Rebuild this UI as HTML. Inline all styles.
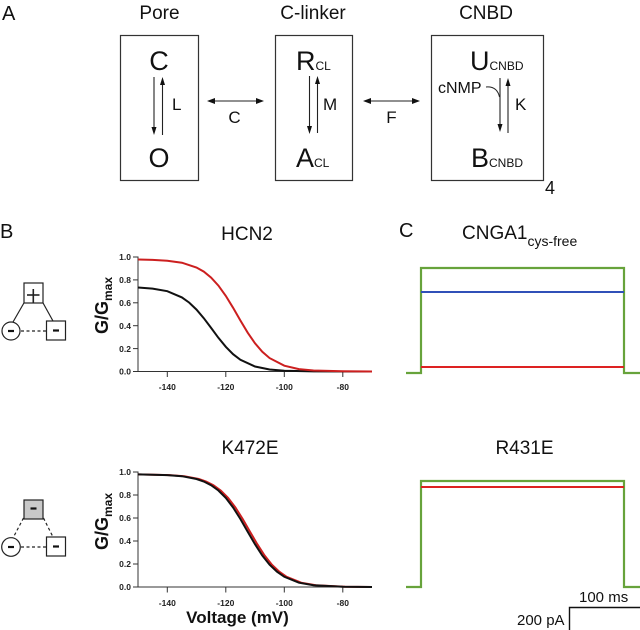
<!DOCTYPE html>
<html><head><meta charset="utf-8"><style>
html,body{margin:0;padding:0;background:#fff;}
svg{display:block;font-family:"Liberation Sans",Arial,sans-serif;}
</style></head><body>
<svg width="640" height="630" viewBox="0 0 640 630" xmlns="http://www.w3.org/2000/svg">
<rect width="640" height="630" fill="#fff"/>
<!-- Panel A -->
<text x="2" y="20" font-size="20" fill="#111">A</text>
<text x="159.5" y="19" font-size="19" text-anchor="middle" fill="#111">Pore</text>
<text x="313" y="19" font-size="19" text-anchor="middle" fill="#111">C-linker</text>
<text x="486" y="19" font-size="19" text-anchor="middle" fill="#111">CNBD</text>

<g fill="none" stroke="#333" stroke-width="1.2">
<rect x="120.5" y="35.5" width="78" height="145"/>
<rect x="275.5" y="35.5" width="77" height="145"/>
<rect x="431.5" y="35.5" width="112" height="145"/>
</g>

<!-- Pore -->
<text x="159" y="70" font-size="27" text-anchor="middle" fill="#111">C</text>
<text x="159" y="167" font-size="27" text-anchor="middle" fill="#111">O</text>
<g stroke="#222" stroke-width="1.1">
<line x1="154" y1="77" x2="154" y2="128"/>
<line x1="162.5" y1="135" x2="162.5" y2="84"/>
<line x1="309.5" y1="76" x2="309.5" y2="127"/>
<line x1="317.5" y1="133" x2="317.5" y2="83"/>
<line x1="500" y1="78" x2="500" y2="125"/>
<line x1="508" y1="133" x2="508" y2="85"/>
<line x1="213" y1="101" x2="258" y2="101"/>
<line x1="369" y1="101" x2="414" y2="101"/>
</g>
<g fill="#111">
<polygon points="151.5,127 156.5,127 154,135"/>
<polygon points="160,85 165,85 162.5,77"/>
<polygon points="307,126 312,126 309.5,134"/>
<polygon points="315,84 320,84 317.5,76"/>
<polygon points="497.5,124 502.5,124 500,132"/>
<polygon points="505.5,86 510.5,86 508,78"/>
<polygon points="207,101 215,98 215,104"/>
<polygon points="264,101 256,98 256,104"/>
<polygon points="363,101 371,98 371,104"/>
<polygon points="420,101 412,98 412,104"/>
</g>
<text x="172" y="110" font-size="17" fill="#111">L</text>
<text x="234.5" y="123" font-size="17" text-anchor="middle" fill="#111">C</text>
<text x="391.5" y="123" font-size="17" text-anchor="middle" fill="#111">F</text>

<!-- C-linker -->
<text x="296" y="70" font-size="27" fill="#111">R<tspan font-size="12">CL</tspan></text>
<text x="296" y="167" font-size="27" fill="#111">A<tspan font-size="12">CL</tspan></text>
<text x="323" y="110" font-size="17" fill="#111">M</text>

<!-- CNBD -->
<text x="470" y="70" font-size="27" fill="#111">U<tspan font-size="12">CNBD</tspan></text>
<text x="471" y="167" font-size="27" fill="#111">B<tspan font-size="12">CNBD</tspan></text>
<text x="438" y="93" font-size="16" fill="#111">cNMP</text>
<path d="M486 87 Q497 86 499.5 97" fill="none" stroke="#222" stroke-width="1"/>
<text x="515" y="110" font-size="17" fill="#111">K</text>
<text x="545" y="194" font-size="18" fill="#111">4</text>

<!-- Panel B -->
<text x="0" y="238" font-size="20" fill="#111">B</text>
<text x="247" y="240" font-size="19" text-anchor="middle" fill="#111">HCN2</text>
<text x="250" y="454" font-size="19" text-anchor="middle" fill="#111">K472E</text>

<!-- diagram top -->
<g stroke="#222" stroke-width="1.2" fill="none">
<line x1="24.5" y1="302" x2="13" y2="322"/>
<line x1="42.5" y1="302" x2="53" y2="321"/>
<line x1="21" y1="331" x2="46" y2="331" stroke-dasharray="3,2.5"/>
<rect x="24" y="283" width="19" height="20" fill="#fff"/>
<circle cx="11" cy="331" r="9" fill="#fff"/>
<rect x="46.5" y="321" width="19" height="19" fill="#fff"/>
<line x1="27" y1="295" x2="39.5" y2="295" stroke-width="1.6"/>
<line x1="33.3" y1="289" x2="33.3" y2="303" stroke-width="1.6"/>
</g>
<g stroke="#111" stroke-width="2.2">
<line x1="8" y1="331" x2="14" y2="331"/>
<line x1="53" y1="330.5" x2="59" y2="330.5"/>
</g>
<!-- diagram bottom -->
<g stroke="#222" stroke-width="1.2" fill="none">
<line x1="23.5" y1="518" x2="13" y2="538" stroke-dasharray="3,2.5"/>
<line x1="43.5" y1="518" x2="53" y2="537" stroke-dasharray="3,2.5"/>
<line x1="21" y1="547" x2="46" y2="547" stroke-dasharray="3,2.5"/>
<rect x="24" y="500" width="19" height="19" fill="#c9c9c9"/>
<circle cx="11" cy="547" r="9.3" fill="#fff"/>
<rect x="46.5" y="537" width="19" height="19" fill="#fff"/>
</g>
<g stroke="#111" stroke-width="2.2">
<line x1="30.5" y1="508.5" x2="36.5" y2="508.5"/>
<line x1="8" y1="547" x2="14" y2="547"/>
<line x1="53" y1="546.5" x2="59" y2="546.5"/>
</g>

<!-- top plot axes -->
<g stroke="#333" stroke-width="1">
<line x1="138" y1="256.5" x2="138" y2="372"/>
<line x1="137.5" y1="371.5" x2="372" y2="371.5"/>
<line x1="133" y1="257" x2="138" y2="257"/>
<line x1="133" y1="279.9" x2="138" y2="279.9"/>
<line x1="133" y1="302.8" x2="138" y2="302.8"/>
<line x1="133" y1="325.7" x2="138" y2="325.7"/>
<line x1="133" y1="348.6" x2="138" y2="348.6"/>
<line x1="133" y1="371.5" x2="138" y2="371.5"/>
<line x1="167.3" y1="371.5" x2="167.3" y2="377"/>
<line x1="225.8" y1="371.5" x2="225.8" y2="377"/>
<line x1="284.3" y1="371.5" x2="284.3" y2="377"/>
<line x1="342.8" y1="371.5" x2="342.8" y2="377"/>
</g>
<g font-size="8.5" font-weight="bold" fill="#222" text-anchor="end">
<text x="131" y="260">1.0</text>
<text x="131" y="283">0.8</text>
<text x="131" y="306">0.6</text>
<text x="131" y="329">0.4</text>
<text x="131" y="352">0.2</text>
<text x="131" y="374.5">0.0</text>
</g>
<g font-size="8.5" font-weight="bold" fill="#222" text-anchor="middle">
<text x="167.3" y="390">-140</text>
<text x="225.8" y="390">-120</text>
<text x="284.3" y="390">-100</text>
<text x="342.8" y="390">-80</text>
</g>
<text transform="translate(108,334) rotate(-90)" font-size="18" font-weight="bold" fill="#111">G/G<tspan font-size="12" dy="4">max</tspan></text>

<polyline fill="none" stroke="#111" stroke-width="2" points="138,287.5 152.6,288.6 167.3,291.2 181.9,297.4 189.2,302.6 196.5,309.6 203.8,318.2 211.1,327.9 218.4,337.8 225.8,346.8 233.1,354.2 240.4,359.8 255,366.5 269.6,369.5 284.3,370.7 313.5,371.4 372,371.5"/>
<polyline fill="none" stroke="#cc1f1f" stroke-width="2" points="138,259.5 152.6,259.9 167.3,260.7 181.9,262.7 196.5,267.5 203.8,271.6 211.1,277.6 218.4,285.6 225.8,295.9 233.1,307.8 240.4,320.5 247.7,332.7 255,343.3 262.3,351.8 269.6,358.1 284.3,365.7 298.9,369.1 313.5,370.5 342.8,371.3 372,371.5"/>

<!-- bottom plot axes -->
<g stroke="#333" stroke-width="1">
<line x1="138" y1="471.5" x2="138" y2="587.5"/>
<line x1="137.5" y1="587" x2="372" y2="587"/>
<line x1="133" y1="472" x2="138" y2="472"/>
<line x1="133" y1="495" x2="138" y2="495"/>
<line x1="133" y1="518" x2="138" y2="518"/>
<line x1="133" y1="541" x2="138" y2="541"/>
<line x1="133" y1="564" x2="138" y2="564"/>
<line x1="133" y1="587" x2="138" y2="587"/>
<line x1="167.3" y1="587" x2="167.3" y2="592.5"/>
<line x1="225.8" y1="587" x2="225.8" y2="592.5"/>
<line x1="284.3" y1="587" x2="284.3" y2="592.5"/>
<line x1="342.8" y1="587" x2="342.8" y2="592.5"/>
</g>
<g font-size="8.5" font-weight="bold" fill="#222" text-anchor="end">
<text x="131" y="475">1.0</text>
<text x="131" y="498">0.8</text>
<text x="131" y="521">0.6</text>
<text x="131" y="544">0.4</text>
<text x="131" y="567">0.2</text>
<text x="131" y="590">0.0</text>
</g>
<g font-size="8.5" font-weight="bold" fill="#222" text-anchor="middle">
<text x="167.3" y="606">-140</text>
<text x="225.8" y="606">-120</text>
<text x="284.3" y="606">-100</text>
<text x="342.8" y="606">-80</text>
</g>
<text transform="translate(108,550) rotate(-90)" font-size="18" font-weight="bold" fill="#111">G/G<tspan font-size="12" dy="4">max</tspan></text>
<text x="237.5" y="623" font-size="17" font-weight="bold" text-anchor="middle" fill="#111">Voltage (mV)</text>

<polyline transform="translate(2.3,0)" fill="none" stroke="#cc1f1f" stroke-width="2" points="135.7,474.4 167.3,475.1 181.9,476.2 196.5,479 203.8,481.5 211.1,485.2 218.4,490.5 225.8,497.9 233.1,507.5 240.4,519 247.7,531.7 255,544.2 262.3,555.5 269.6,564.7 277,571.7 284.3,576.8 298.9,582.7 313.5,585.2 342.8,586.7 369.7,587"/>
<polyline fill="none" stroke="#111" stroke-width="2" points="138,474.4 167.3,475.1 181.9,476.2 196.5,479 203.8,481.5 211.1,485.2 218.4,490.5 225.8,497.9 233.1,507.5 240.4,519 247.7,531.7 255,544.2 262.3,555.5 269.6,564.7 277,571.7 284.3,576.8 298.9,582.7 313.5,585.2 342.8,586.7 372,587"/>

<!-- Panel C -->
<text x="399" y="237" font-size="20" fill="#111">C</text>
<text x="462" y="239" font-size="19" fill="#111">CNGA1<tspan font-size="14" dy="7">cys-free</tspan></text>
<text x="524.5" y="454" font-size="19" text-anchor="middle" fill="#111">R431E</text>

<path d="M406 373 H421 V268 H624 V373 H640" fill="none" stroke="#67a33b" stroke-width="2.2"/>
<line x1="421" y1="292" x2="624" y2="292" stroke="#3050b8" stroke-width="2"/>
<line x1="421" y1="367" x2="624" y2="367" stroke="#dd2222" stroke-width="2"/>

<path d="M406 587 H421 V481 H624 V587 H640" fill="none" stroke="#67a33b" stroke-width="2.2"/>
<line x1="421" y1="487" x2="624" y2="487" stroke="#dd2222" stroke-width="2"/>

<!-- scale bar -->
<path d="M569.5 630 V607.5 H640" fill="none" stroke="#111" stroke-width="1.4"/>
<text x="579" y="602" font-size="15" fill="#111">100 ms</text>
<text x="517" y="625" font-size="15" fill="#111">200 pA</text>
</svg>
</body></html>
